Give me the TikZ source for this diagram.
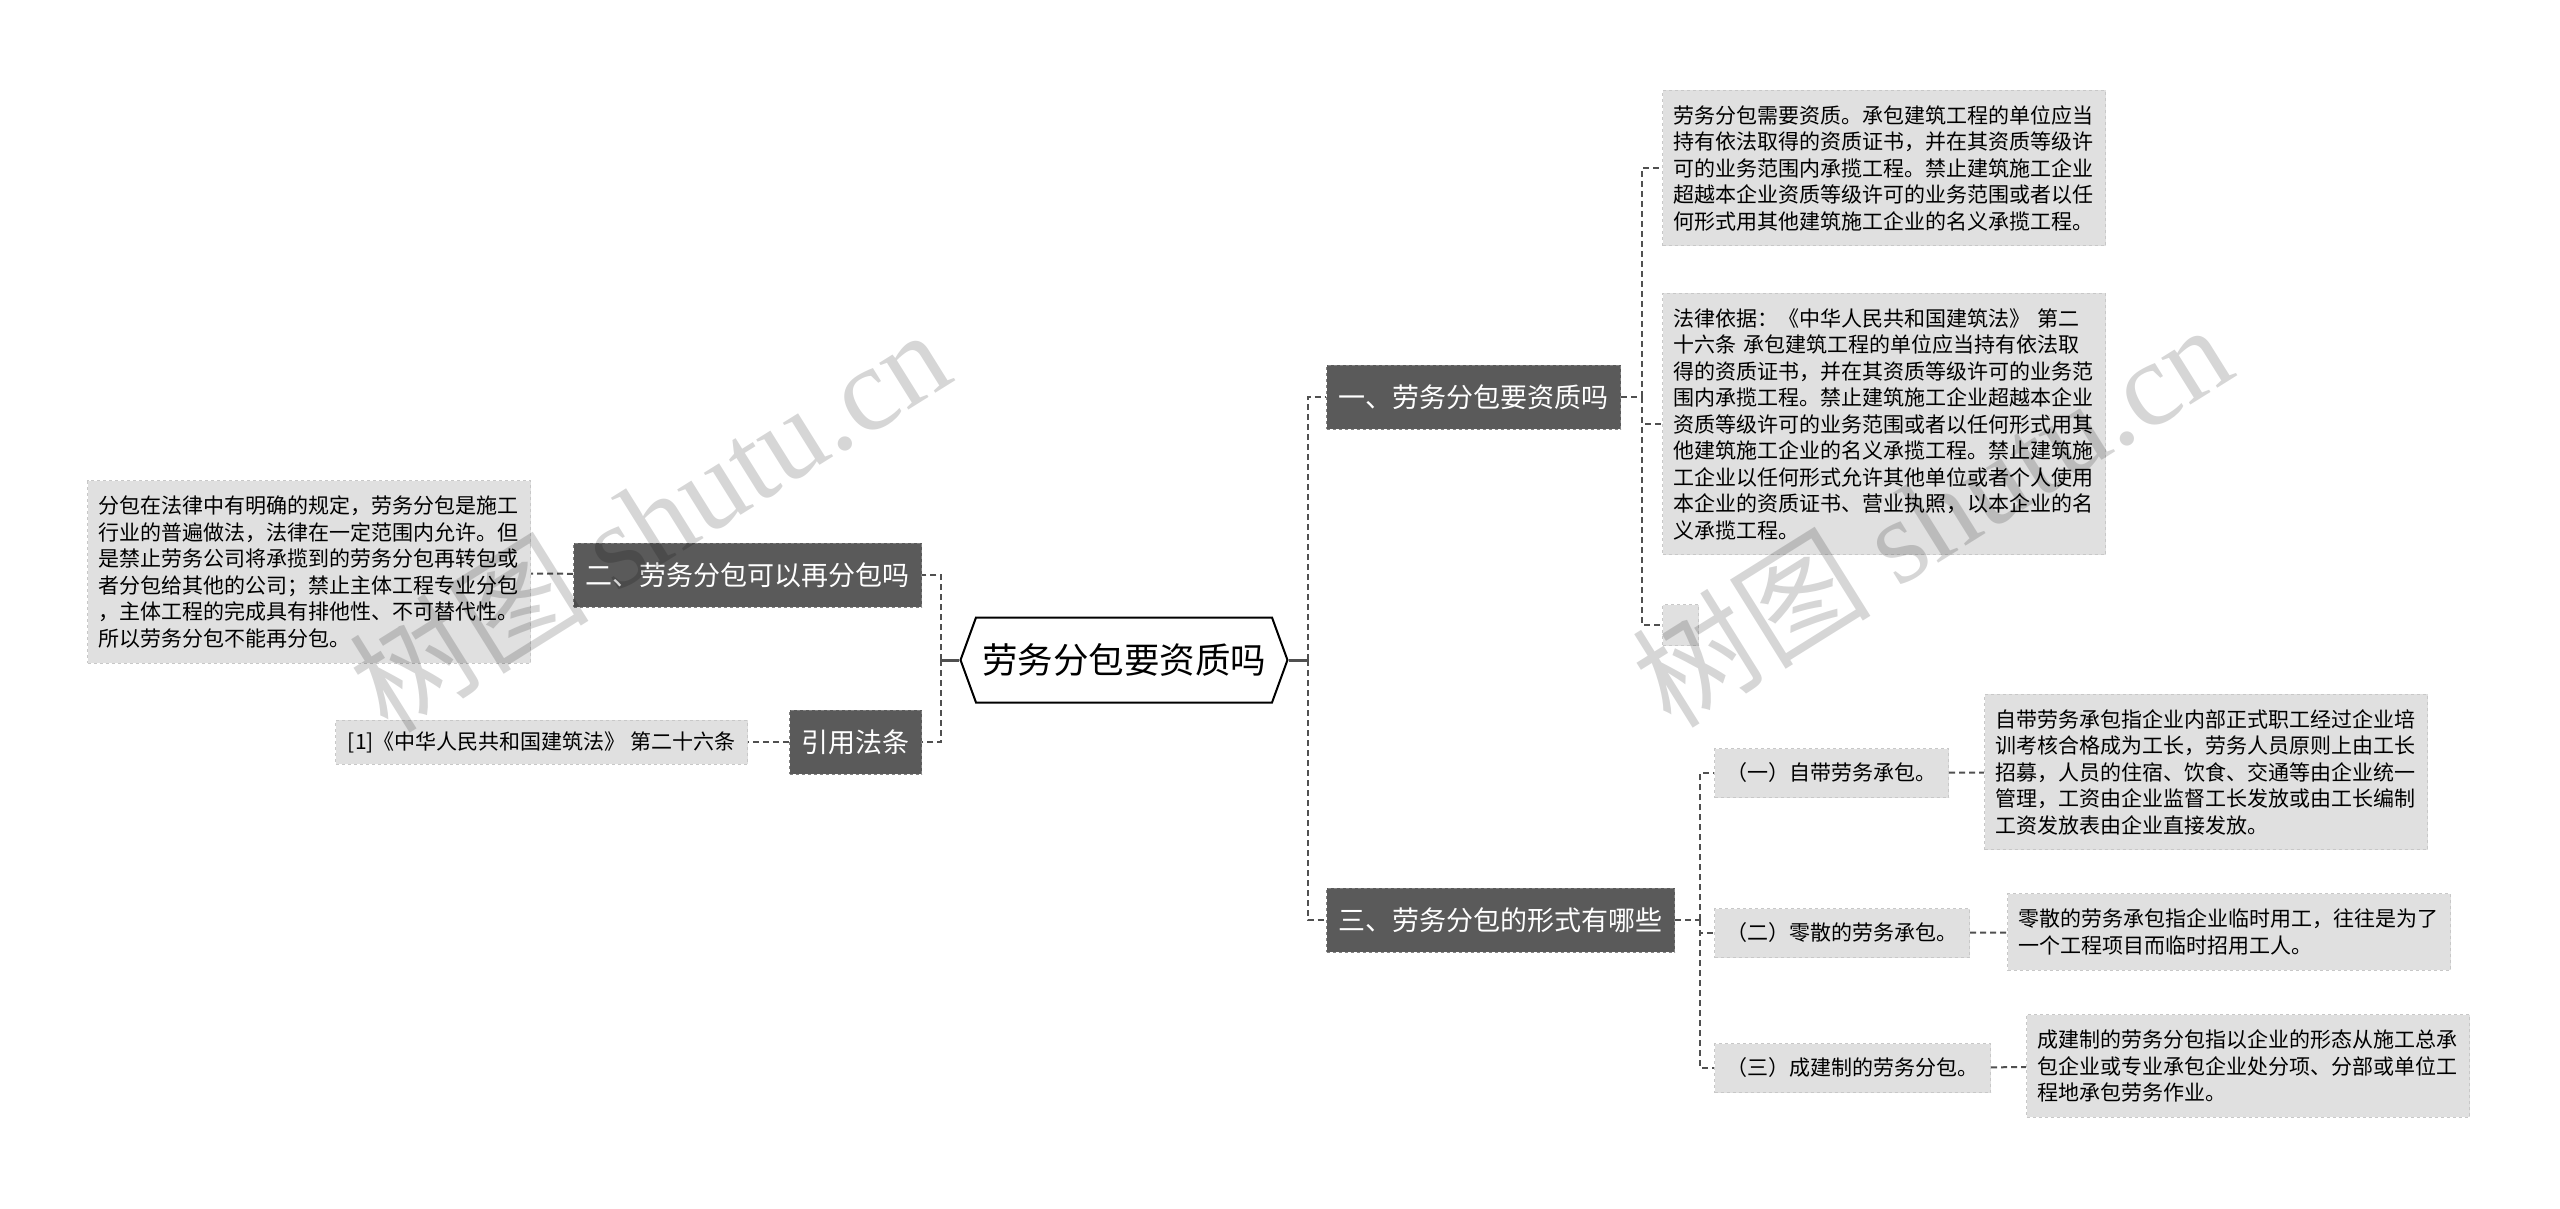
\documentclass[tikz,border=0pt]{standalone}
\usepackage{fontspec}
\setmainfont{Noto Sans CJK SC}
\newfontfamily\wmlatin{Liberation Serif}
\usetikzlibrary{shapes.symbols, positioning}
\definecolor{topicgray}{RGB}{90,90,90}
\definecolor{topicedge}{RGB}{130,130,130}
\definecolor{leafgray}{RGB}{224,224,224}
\definecolor{leafedge}{RGB}{200,200,200}
\definecolor{linkgray}{RGB}{80,80,80}
\tikzset{
	root/.style={shape=signal, signal to=west and east, signal pointer angle=140, draw=black, line width=2pt, fill=white, inner xsep=6pt, minimum height=85pt, font=\fontsize{35.5}{40}\selectfont},
	topic/.style={fill=topicgray, draw=topicedge, dashed, line width=1pt, text=white, inner xsep=12pt, minimum height=64pt, font=\fontsize{27}{32}\selectfont},
	sub/.style={fill=leafgray, draw=leafedge, dashed, line width=1pt, inner xsep=12pt, minimum height=49pt, font=\fontsize{21}{25}\selectfont},
	leaf/.style={sub, align=left, text width=421pt, inner xsep=11pt, inner ysep=15pt, font=\fontsize{21}{26.5}\selectfont},
	note/.style={sub, minimum height=44pt},
	link/.style={draw=linkgray, line width=2pt, dash pattern=on 6pt off 4pt},
	stem/.style={draw=linkgray, line width=3pt},
	wmark/.style={text=black, opacity=0.16, rotate=32, font=\fontsize{120}{120}\selectfont}
}
\begin{document}
\begin{tikzpicture}[x=1pt, y=-1pt]
\useasboundingbox (0,0) rectangle (2560,1208);
% centre
\node[root] (root) at (1124,660) {劳务分包要资质吗};
% first level
\node[topic, anchor=west] (q1) at (1326,397) {一、劳务分包要资质吗};
\node[topic, anchor=west] (q3) at (1326,920) {三、劳务分包的形式有哪些};
\node[topic, anchor=east] (q2) at (922,575) {二、劳务分包可以再分包吗};
\node[topic, anchor=east] (cite) at (922,742) {引用法条};
% under q1
\node[leaf, anchor=west] (a1) at (1662,168) {劳务分包需要资质。承包建筑工程的单位应当\\持有依法取得的资质证书，并在其资质等级许\\可的业务范围内承揽工程。禁止建筑施工企业\\超越本企业资质等级许可的业务范围或者以任\\何形式用其他建筑施工企业的名义承揽工程。};
\node[leaf, anchor=west] (a2) at (1662,424) {法律依据：《中华人民共和国建筑法》 第二\\十六条 承包建筑工程的单位应当持有依法取\\得的资质证书，并在其资质等级许可的业务范\\围内承揽工程。禁止建筑施工企业超越本企业\\资质等级许可的业务范围或者以任何形式用其\\他建筑施工企业的名义承揽工程。禁止建筑施\\工企业以任何形式允许其他单位或者个人使用\\本企业的资质证书、营业执照，以本企业的名\\义承揽工程。};
\node[sub, anchor=west, minimum width=36pt, minimum height=41pt, inner sep=0pt] (a3) at (1662,625) {};
% under q3
\node[sub, anchor=west] (f1) at (1714,773) {（一）自带劳务承包。};
\node[sub, anchor=west] (f2) at (1714,933) {（二）零散的劳务承包。};
\node[sub, anchor=west] (f3) at (1714,1068) {（三）成建制的劳务分包。};
\node[leaf, anchor=west] (d1) at (1984,772) {自带劳务承包指企业内部正式职工经过企业培\\训考核合格成为工长，劳务人员原则上由工长\\招募，人员的住宿、饮食、交通等由企业统一\\管理，工资由企业监督工长发放或由工长编制\\工资发放表由企业直接发放。};
\node[leaf, anchor=west] (d2) at (2007,932) {零散的劳务承包指企业临时用工，往往是为了\\一个工程项目而临时招用工人。};
\node[leaf, anchor=west] (d3) at (2026,1066) {成建制的劳务分包指以企业的形态从施工总承\\包企业或专业承包企业处分项、分部或单位工\\程地承包劳务作业。};
% left leaves
\node[leaf, anchor=east] (b1) at (531,572) {分包在法律中有明确的规定，劳务分包是施工\\行业的普遍做法，法律在一定范围内允许。但\\是禁止劳务公司将承揽到的劳务分包再转包或\\者分包给其他的公司；禁止主体工程专业分包\\，主体工程的完成具有排他性、不可替代性。\\所以劳务分包不能再分包。};
\node[note, anchor=east] (c1) at (748,742) {[1]《中华人民共和国建筑法》 第二十六条};

% connectors
\draw[stem] (root.east) -- ++(19,0) coordinate (rj);
\draw[link] (rj) |- (q1.west);
\draw[link] (rj) |- (q3.west);
\draw[stem] (root.west) -- ++(-18,0) coordinate (lj);
\draw[link] (lj) |- (q2.east);
\draw[link] (lj) |- (cite.east);
\draw[link] (q1.east) -- ++(21,0) coordinate (j1);
\draw[link] (j1) |- (a1.west);
\draw[link] (j1) |- (a2.west);
\draw[link] (j1) |- (a3.west);
\draw[link] (q3.east) -- ++(25,0) coordinate (j3);
\draw[link] (j3) |- (f1.west);
\draw[link] (j3) |- (f2.west);
\draw[link] (j3) |- (f3.west);
\draw[link] (f1) -- (d1);
\draw[link] (f2) -- (d2);
\draw[link] (f3) -- (d3);
\draw[link] (q2) -- (b1);
\draw[link] (cite) -- (c1);

% watermarks
\node[wmark] (wm1) at (649,519) {树图 {\wmlatin shutu.cn}};
\node[wmark] (wm2) at (1931,514) {树图 {\wmlatin shutu.cn}};
\end{tikzpicture}
\end{document}
